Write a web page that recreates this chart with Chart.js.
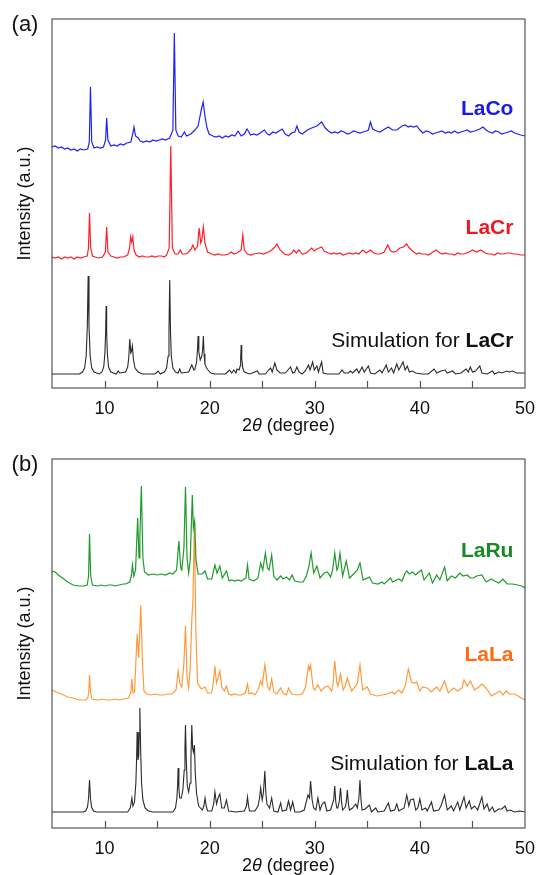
<!DOCTYPE html>
<html>
<head>
<meta charset="utf-8">
<script src="https://cdn.jsdelivr.net/npm/chart.js@4.4.1/dist/chart.umd.min.js"></script>
<style>
  html, body { margin: 0; padding: 0; background: #fff; overflow: hidden; }
  canvas { display: block; }
</style>
</head>
<body>
<canvas id="panelA" width="545" height="440"></canvas>
<canvas id="panelB" width="545" height="440"></canvas>
<script>
// 2-theta range and tick labels
const twoThetaMin = 5;
const twoThetaMax = 50;
const tickLabels = [10, 20, 30, 40, 50];

// (a) patterns: [2theta, intensity (a.u., offset)]
const laCoPattern = [
  [5.0,241],[5.3,242],[5.6,240],[5.9,241],[6.2,239],[6.5,240],[6.8,238],[7.1,239],[7.4,237],[7.7,239],[8.0,238],[8.4,239],
  [8.55,246],[8.66,301],[8.78,246],[9.0,240],[9.3,241],[9.6,240],[9.9,241],[10.1,248],[10.2,270],[10.32,248],[10.6,242],
  [10.9,243],[11.2,242],[11.5,244],[11.8,243],[12.1,245],[12.5,246],[12.7,255],[12.8,261],[12.95,252],[13.2,250],[13.4,247],
  [13.7,246],[14.0,247],[14.3,246],[14.6,248],[14.9,247],[15.2,248],[15.5,249],[15.8,248],[16.2,250],[16.5,258],[16.64,355],
  [16.78,258],[17.0,252],[17.3,251],[17.6,256],[17.8,252],[18.2,254],[18.6,258],[18.9,262],[19.2,278],[19.38,286],[19.55,272],
  [19.75,260],[19.95,254],[20.3,252],[20.6,251],[20.9,252],[21.2,250],[21.5,252],[21.8,251],[22.1,253],[22.4,252],[22.7,257],
  [23.0,252],[23.3,254],[23.55,259],[23.9,253],[24.2,254],[24.5,253],[24.8,255],[25.2,258],[25.5,254],[25.7,253],[26.0,256],
  [26.3,255],[26.9,259],[27.2,254],[27.5,252],[27.8,255],[28.1,256],[28.3,262],[28.5,256],[28.8,254],[29.3,258],[29.7,260],
  [30.2,262],[30.65,266],[31.0,260],[31.3,257],[31.6,255],[31.9,256],[32.2,255],[32.5,257],[32.8,256],[33.1,254],[33.4,255],
  [33.7,257],[34.0,256],[34.3,255],[34.6,256],[34.9,257],[35.1,258],[35.3,266],[35.5,259],[35.9,257],[36.2,256],[36.5,258],
  [37.0,261],[37.4,258],[37.8,258],[38.3,262],[38.6,263],[38.9,261],[39.1,262],[39.4,261],[39.7,262],[40.0,258],[40.3,255],
  [40.6,257],[40.9,256],[41.2,254],[41.5,255],[41.8,256],[42.1,257],[42.4,255],[42.7,256],[43.0,255],[43.3,257],[43.6,255],
  [43.9,256],[44.2,257],[44.5,258],[44.8,256],[45.2,257],[45.7,259],[46.0,261],[46.3,258],[46.6,256],[46.9,255],[47.2,257],
  [47.5,256],[47.8,254],[48.1,255],[48.4,256],[48.7,257],[49.0,255],[49.3,254],[49.6,253],[50.0,252]
];
const laCrPattern = [
  [5.0,131],[5.3,130],[5.6,131],[5.9,129],[6.2,131],[6.5,130],[6.8,131],[7.1,129],[7.4,131],[7.7,130],[8.0,131],[8.35,132],
  [8.47,140],[8.57,175],[8.68,140],[8.85,132],[9.1,131],[9.4,130],[9.8,131],[10.08,136],[10.2,161],[10.32,136],[10.6,132],
  [10.9,131],[11.2,130],[11.5,131],[11.8,131],[12.2,133],[12.38,140],[12.48,151],[12.58,146],[12.68,151],[12.8,138],[13.0,133],
  [13.3,131],[13.6,132],[13.9,131],[14.2,131],[14.5,132],[14.8,131],[15.1,132],[15.4,132],[15.7,131],[15.9,133],[16.15,140],
  [16.3,242],[16.45,140],[16.7,134],[17.0,134],[17.2,138],[17.4,134],[17.7,134],[17.9,135],[18.25,139],[18.4,143],[18.6,138],
  [18.85,142],[19.0,160],[19.15,145],[19.25,148],[19.4,161],[19.55,145],[19.8,136],[20.2,134],[20.5,133],[20.8,134],[21.1,133],
  [21.4,133],[21.8,134],[22.05,136],[22.3,134],[22.6,135],[23.0,138],[23.15,153],[23.3,138],[23.6,134],[23.9,133],[24.2,134],
  [24.7,135],[25.1,134],[25.6,136],[25.9,138],[26.2,141],[26.4,144],[26.7,138],[27.1,134],[27.5,133],[27.8,135],[28.0,138],
  [28.25,135],[28.5,138],[28.8,134],[29.2,135],[29.7,140],[29.95,137],[30.2,139],[30.65,141],[30.9,137],[31.3,135],[31.6,134],
  [31.8,135],[32.1,134],[32.4,135],[32.7,133],[33.0,134],[33.3,135],[33.6,134],[33.9,135],[34.2,134],[34.55,138],[34.9,135],
  [35.3,138],[35.6,135],[35.9,134],[36.2,134],[36.6,136],[36.95,143],[37.2,137],[37.5,136],[37.8,137],[38.1,140],[38.45,141],
  [38.75,144],[39.0,140],[39.4,136],[39.7,134],[39.9,135],[40.2,134],[40.5,134],[40.8,133],[41.1,135],[41.55,138],[41.9,135],
  [42.2,134],[42.4,135],[42.7,134],[43.0,134],[43.3,133],[43.6,135],[43.9,134],[44.2,134],[44.7,136],[45.0,138],[45.4,136],
  [45.8,138],[46.2,135],[46.5,134],[46.8,134],[47.1,133],[47.4,135],[47.7,134],[48.0,134],[48.3,135],[48.6,135],[48.9,134],
  [49.2,134],[49.6,133],[50.0,133]
];
const simLaCrPattern = [
  [5.0,14],[7.6,14],[7.9,16],[8.1,20],[8.25,32],[8.36,62],[8.44,112],[8.52,62],[8.63,32],[8.78,20],[9.0,16],[9.5,14],[9.75,16],
  [9.92,21],[10.03,34],[10.1,55],[10.15,82],[10.2,55],[10.27,34],[10.38,21],[10.6,16],[11.1,14],[11.3,17],[11.45,15],[12.0,16],
  [12.2,21],[12.3,30],[12.4,49],[12.5,35],[12.55,36],[12.65,42],[12.75,28],[12.9,20],[13.2,16],[13.6,14],[14.8,14],[15.1,17],
  [15.3,14],[15.7,16],[15.9,20],[16.05,32],[16.13,58],[16.2,108],[16.27,58],[16.35,32],[16.5,20],[16.75,16],[17.0,15],[17.15,19],
  [17.3,15],[18.0,16],[18.3,23],[18.5,18],[18.6,19],[18.75,26],[18.83,36],[18.9,52],[18.97,36],[19.1,28],[19.25,32],[19.33,38],
  [19.4,52],[19.47,34],[19.55,24],[19.7,20],[19.85,18],[20.1,15],[20.5,14],[21.0,14],[21.5,14],[21.8,17],[21.9,18],[22.1,15],
  [22.3,18],[22.5,15],[22.6,19],[22.8,18],[22.9,22],[22.95,30],[23.0,43],[23.05,30],[23.15,20],[23.3,16],[23.8,14],[24.55,17],
  [24.7,14],[25.3,14],[25.6,18],[25.8,20],[25.95,16],[26.2,25],[26.4,18],[26.7,15],[27.2,15],[27.7,21],[27.9,15],[28.1,16],
  [28.3,21],[28.5,16],[28.8,14],[29.1,17],[29.4,23],[29.55,18],[29.8,26],[29.95,18],[30.2,22],[30.35,16],[30.65,26],[30.8,15],
  [31.2,14],[31.8,14],[32.3,14],[32.6,18],[32.8,15],[33.2,15],[33.4,17],[33.6,15],[34.0,19],[34.2,15],[34.5,21],[34.7,16],
  [35.1,22],[35.3,15],[35.7,14],[36.2,18],[36.4,15],[36.8,23],[37.0,16],[37.3,20],[37.5,15],[37.8,24],[38.0,18],[38.2,22],
  [38.4,26],[38.6,18],[38.8,22],[39.0,16],[39.3,17],[39.6,15],[40.2,14],[40.8,14],[41.35,19],[41.6,15],[42.0,17],[42.4,18],
  [42.6,15],[43.1,17],[43.4,14],[43.9,15],[44.4,19],[44.6,16],[44.8,21],[45.0,16],[45.3,17],[45.7,22],[45.9,15],[46.4,14],
  [46.9,17],[47.1,14],[47.5,16],[47.8,15],[48.3,17],[48.5,16],[48.8,17],[49.2,15],[50.0,15]
];

// (b) patterns
const laRuPattern = [
  [5.0,257],[5.3,256],[5.6,253],[6.0,250],[6.5,246],[7.0,243],[7.5,242],[8.0,242],[8.35,243],[8.48,252],[8.57,294],[8.68,252],
  [8.85,243],[9.3,242],[9.7,243],[10.0,242],[10.4,243],[10.7,243],[11.0,242],[11.4,243],[11.8,244],[12.0,244],[12.4,246],
  [12.55,252],[12.65,263],[12.78,252],[12.95,258],[13.15,310],[13.28,270],[13.36,290],[13.5,342],[13.65,270],[13.8,256],
  [14.2,253],[14.6,254],[15.0,253],[15.4,254],[15.8,253],[16.2,255],[16.5,254],[16.85,258],[17.07,287],[17.25,260],[17.35,258],
  [17.55,280],[17.7,341],[17.85,270],[18.0,255],[18.15,268],[18.35,333],[18.45,300],[18.57,307],[18.7,268],[18.9,254],[19.3,254],
  [19.56,257],[19.8,249],[20.2,249],[20.5,263],[20.7,255],[20.97,262],[21.2,250],[21.6,257],[21.85,247],[22.1,248],[22.4,247],
  [22.7,248],[23.0,247],[23.45,250],[23.6,263],[23.75,249],[24.2,247],[24.6,250],[24.85,265],[25.05,258],[25.3,275],[25.5,260],
  [25.65,258],[25.9,273],[26.1,252],[26.4,248],[26.75,252],[27.0,249],[27.3,251],[27.6,248],[27.85,253],[28.1,247],[28.5,246],
  [28.9,246],[29.2,252],[29.45,262],[29.65,275],[29.9,255],[30.2,262],[30.5,250],[30.9,255],[31.2,256],[31.5,251],[31.7,258],
  [31.9,275],[32.1,258],[32.2,260],[32.4,275],[32.65,252],[33.0,267],[33.3,250],[33.8,255],[34.05,258],[34.3,265],[34.6,248],
  [35.2,251],[35.5,245],[36.0,244],[36.4,246],[36.6,244],[37.2,250],[37.4,246],[38.0,249],[38.3,247],[38.6,255],[38.75,257],
  [39.0,254],[39.3,256],[39.6,253],[39.9,256],[40.15,258],[40.4,248],[40.9,255],[41.2,245],[41.6,253],[41.9,248],[42.35,261],
  [42.6,247],[43.0,252],[43.4,250],[43.8,255],[44.1,252],[44.5,253],[44.8,250],[45.1,250],[45.4,252],[45.9,253],[46.3,246],
  [46.8,249],[47.1,247],[47.5,245],[47.9,249],[48.3,244],[48.8,244],[49.3,243],[49.7,242],[50.0,240]
];
const laLaPattern = [
  [5.0,138],[5.4,136],[5.9,134],[6.5,131],[7.0,130],[7.6,128],[8.2,128],[8.4,130],[8.5,136],[8.57,153],[8.66,136],[8.8,129],
  [9.4,128],[9.8,129],[10.2,128],[10.6,128],[11.0,129],[11.4,128],[11.8,129],[12.3,130],[12.5,136],[12.6,149],[12.7,135],
  [12.85,136],[13.1,194],[13.25,170],[13.45,223],[13.6,165],[13.75,137],[14.0,134],[14.4,133],[14.8,134],[15.2,133],[15.6,133],
  [16.0,134],[16.4,134],[16.8,138],[17.0,157],[17.15,145],[17.35,141],[17.55,165],[17.7,202],[17.85,150],[18.0,140],[18.15,160],
  [18.3,208],[18.42,230],[18.55,308],[18.68,200],[18.85,145],[19.2,139],[19.56,141],[19.8,135],[20.2,135],[20.4,150],[20.5,162],
  [20.65,145],[20.8,150],[20.97,157],[21.15,141],[21.4,137],[21.6,142],[21.8,134],[22.1,133],[22.4,134],[22.7,133],[23.0,133],
  [23.4,135],[23.6,144],[23.75,134],[24.0,135],[24.3,133],[24.6,138],[24.85,147],[25.0,143],[25.25,163],[25.5,142],[25.7,138],
  [25.9,149],[26.1,136],[26.4,134],[26.75,140],[27.0,135],[27.3,133],[27.5,140],[27.8,134],[28.3,133],[28.8,134],[29.1,140],
  [29.4,162],[29.5,158],[29.6,163],[29.85,140],[30.0,138],[30.3,143],[30.6,137],[30.95,141],[31.27,142],[31.6,137],[31.75,145],
  [31.9,167],[32.1,145],[32.2,142],[32.45,154],[32.7,138],[32.9,142],[33.1,150],[33.3,143],[33.5,137],[33.9,142],[34.05,145],
  [34.3,163],[34.55,138],[35.0,141],[35.3,134],[35.9,132],[36.4,133],[36.9,134],[37.35,136],[37.6,134],[37.97,138],[38.3,135],
  [38.6,142],[38.9,159],[39.2,146],[39.4,145],[39.7,146],[40.0,137],[40.25,141],[40.7,140],[41.1,136],[41.6,141],[41.9,137],
  [42.35,147],[42.7,135],[43.2,140],[43.6,137],[44.0,140],[44.2,148],[44.5,142],[44.8,147],[45.2,138],[45.6,141],[45.9,144],
  [46.2,141],[46.5,137],[46.8,132],[47.3,135],[47.6,137],[47.9,133],[48.2,137],[48.5,134],[49.0,134],[49.5,131],[50.0,128]
];
const simLaLaPattern = [
  [5.0,16],[8.0,16],[8.2,17],[8.38,21],[8.48,30],[8.57,48],[8.66,30],[8.76,21],[8.95,17],[9.2,16],[12.2,16],[12.45,20],
  [12.6,30],[12.7,22],[12.85,26],[12.98,45],[13.05,70],[13.1,96],[13.18,68],[13.25,72],[13.3,95],[13.36,120],[13.43,80],
  [13.52,45],[13.65,28],[13.85,20],[14.2,17],[14.6,16],[16.5,16],[16.75,20],[16.88,30],[16.95,42],[17.0,60],[17.07,40],
  [17.15,30],[17.3,30],[17.45,38],[17.58,58],[17.65,80],[17.7,103],[17.77,70],[17.87,42],[18.0,36],[18.13,45],[18.22,70],
  [18.3,103],[18.38,80],[18.45,76],[18.55,83],[18.63,55],[18.75,35],[18.95,22],[19.3,18],[19.45,22],[19.56,30],[19.67,22],
  [19.8,17],[20.2,17],[20.38,24],[20.5,36],[20.65,24],[20.8,30],[20.97,34],[21.15,20],[21.4,20],[21.6,28],[21.8,17],[22.5,16],
  [23.3,17],[23.5,22],[23.6,31],[23.7,22],[23.8,17],[24.3,17],[24.6,22],[24.75,30],[24.85,40],[25.0,28],[25.12,36],[25.25,57],
  [25.35,34],[25.45,24],[25.7,20],[25.9,30],[26.1,17],[26.5,16],[26.75,25],[26.9,17],[27.3,18],[27.5,27],[27.7,18],[27.9,26],
  [28.1,16],[28.6,16],[29.0,18],[29.35,33],[29.5,30],[29.6,47],[29.75,28],[29.9,20],[30.1,18],[30.3,30],[30.5,18],[30.7,24],
  [30.95,26],[31.15,17],[31.5,18],[31.8,28],[31.9,42],[32.0,26],[32.1,20],[32.2,20],[32.35,28],[32.45,40],[32.55,26],[32.65,18],
  [32.9,21],[33.0,26],[33.1,38],[33.2,24],[33.3,18],[33.6,20],[33.9,24],[34.05,20],[34.2,30],[34.3,48],[34.4,28],[34.5,18],
  [34.8,19],[35.2,23],[35.4,16],[35.8,20],[36.0,16],[36.6,17],[37.0,25],[37.2,17],[37.6,18],[37.8,24],[38.0,17],[38.5,20],
  [38.75,33],[38.95,22],[39.1,28],[39.4,29],[39.6,18],[39.8,20],[40.0,29],[40.2,18],[40.55,20],[40.7,17],[41.1,26],[41.3,17],
  [41.8,18],[42.0,22],[42.35,33],[42.6,18],[43.0,22],[43.2,17],[43.6,26],[43.8,18],[44.2,31],[44.4,20],[44.7,27],[44.9,19],
  [45.2,22],[45.5,18],[45.9,31],[46.1,19],[46.4,24],[46.6,17],[46.9,21],[47.1,16],[47.5,19],[47.8,19],[48.1,22],[48.3,17],
  [48.6,18],[49.0,16],[49.5,17],[50.0,16]
];

const FONT = "'Liberation Sans', Arial, Helvetica, sans-serif";
Chart.defaults.font.family = FONT;
Chart.defaults.color = '#111';

// panel letter, curve names and the hand-drawn bits of the frame
const decorations = {
  id: 'decorations',
  afterDraw(chart, args, opts) {
    const { ctx, chartArea: a, scales: { x, y } } = chart;
    ctx.save();

    // frame
    ctx.strokeStyle = '#555';
    ctx.lineWidth = 1.2;
    ctx.strokeRect(a.left, a.top, a.right - a.left, a.bottom - a.top);

    // inward ticks every 5 degrees
    ctx.beginPath();
    x.ticks.forEach(t => {
      if (t.value <= x.min || t.value >= x.max) return;
      const px = Math.round(x.getPixelForValue(t.value)) + 0.5;
      ctx.moveTo(px, a.bottom);
      ctx.lineTo(px, a.bottom - 7);
    });
    ctx.stroke();

    // x title: 2θ (degree) with italic theta
    ctx.fillStyle = '#111';
    ctx.textBaseline = 'middle';
    ctx.textAlign = 'left';
    const parts = [['2', '18px ' + FONT], ['θ', 'italic 18px ' + FONT], [' (degree)', '18px ' + FONT]];
    let total = 0;
    parts.forEach(p => { ctx.font = p[1]; total += ctx.measureText(p[0]).width; });
    let cx = (a.left + a.right) / 2 - total / 2;
    parts.forEach(p => { ctx.font = p[1]; ctx.fillText(p[0], cx, a.bottom + 38); cx += ctx.measureText(p[0]).width; });

    // panel letter
    ctx.font = '22px ' + FONT;
    ctx.textAlign = 'center';
    ctx.fillText(opts.letter, 25, 25);

    // curve names, right aligned
    opts.notes.forEach(n => {
      const px = x.getPixelForValue(n.at[0]);
      const py = y.getPixelForValue(n.at[1]);
      ctx.textAlign = 'right';
      ctx.fillStyle = n.color;
      ctx.font = 'bold 21px ' + FONT;
      ctx.fillText(n.bold, px, py);
      if (n.plain) {
        const w = ctx.measureText(n.bold).width;
        ctx.font = '21px ' + FONT;
        ctx.fillText(n.plain, px - w, py);
      }
    });
    ctx.restore();
  }
};

function trace(label, pattern, color, width) {
  return {
    label,
    data: pattern.map(p => ({ x: p[0], y: p[1] })),
    borderColor: color,
    borderWidth: width,
    pointRadius: 0,
    tension: 0,
    fill: false
  };
}

function makePanel(canvasId, datasets, letter, notes) {
  return new Chart(document.getElementById(canvasId), {
    type: 'line',
    data: { datasets },
    options: {
      responsive: false,
      animation: false,
      layout: { padding: { left: 12, right: 11, top: 19, bottom: 0 } },
      plugins: {
        legend: { display: false },
        tooltip: { enabled: false },
        decorations: { letter, notes }
      },
      scales: {
        x: {
          type: 'linear',
          min: twoThetaMin,
          max: twoThetaMax,
          grid: { drawOnChartArea: false, drawTicks: false },
          border: { display: false },
          ticks: {
            stepSize: 5,
            autoSkip: false,
            maxRotation: 0,
            padding: 10,
            font: { size: 18 },
            color: '#111',
            callback: v => (tickLabels.includes(v) ? String(v) : '')
          },
          afterFit: s => { s.height = 52; }
        },
        y: {
          min: 0,
          max: 369,
          grid: { drawOnChartArea: false, drawTicks: false },
          border: { display: false },
          ticks: { display: false },
          title: {
            display: true,
            text: 'Intensity (a.u.)',
            font: { size: 18 },
            color: '#111',
            padding: { top: 2, bottom: 2 }
          },
          afterFit: s => { s.width = 40; }
        }
      }
    },
    plugins: [decorations]
  });
}

makePanel('panelA', [
  trace('LaCo', laCoPattern, '#1f1fff', 1.2),
  trace('LaCr', laCrPattern, '#ff1f2a', 1.2),
  trace('Simulation for LaCr', simLaCrPattern, '#2a2a2a', 1.1)
], '(a)', [
  { bold: 'LaCo', color: '#1a1ae8', at: [48.9, 279] },
  { bold: 'LaCr', color: '#ee1822', at: [48.9, 160] },
  { bold: 'LaCr', plain: 'Simulation for ', color: '#111', at: [48.9, 47] }
]);

makePanel('panelB', [
  trace('LaRu', laRuPattern, '#1f9a2c', 1.2),
  trace('LaLa', laLaPattern, '#ff9a3c', 1.2),
  trace('Simulation for LaLa', simLaLaPattern, '#2a2a2a', 1.1)
], '(b)', [
  { bold: 'LaRu', color: '#178a26', at: [48.9, 277] },
  { bold: 'LaLa', color: '#ff6a14', at: [48.9, 173] },
  { bold: 'LaLa', plain: 'Simulation for ', color: '#111', at: [48.9, 64] }
]);
</script>
</body>
</html>
